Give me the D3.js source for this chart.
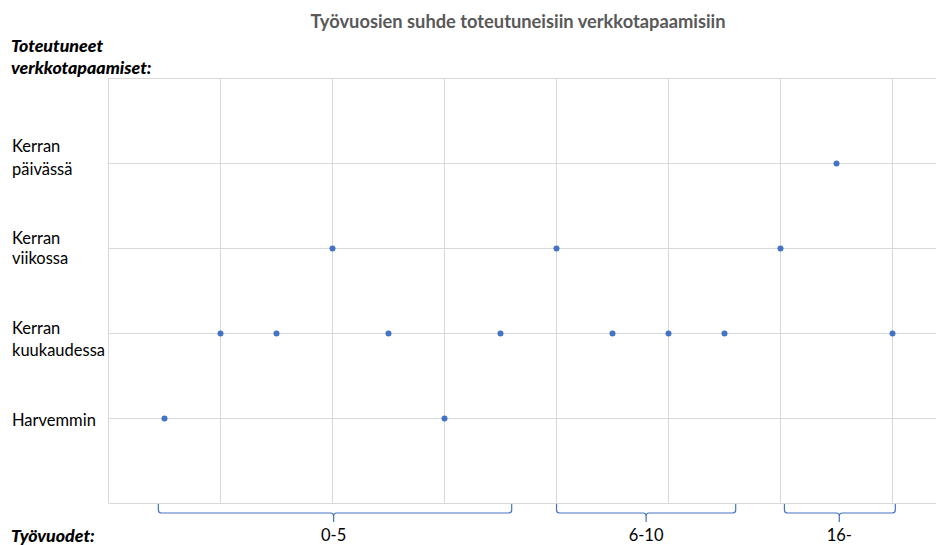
<!DOCTYPE html>
<html><head><meta charset="utf-8">
<script src="https://cdn.jsdelivr.net/npm/d3@7"></script>
<style>body{margin:0;background:#fff}svg{display:block}</style>
</head><body>
<script>
const title = "Työvuosien suhde toteutuneisiin verkkotapaamisiin";
const yCategories = [
  {v:1, lines:["Harvemmin"]},
  {v:2, lines:["Kerran","kuukaudessa"]},
  {v:3, lines:["Kerran","viikossa"]},
  {v:4, lines:["Kerran","päivässä"]}
];
const xValues = [1,2,3,4,5,6,7,8,9,10,11,12,13,14];
const yValues = [1,2,2,3,2,1,2,3,2,2,2,3,4,2];
const groups = [
  {label:"0-5", start:0.89, end:7.2, mid:4.02},
  {label:"6-10", start:8.0, end:11.2, mid:9.6},
  {label:"16-", start:12.07, end:14.05, mid:13.05}
];
const xGridTicks = [0,2,4,6,8,10,12,14];
const yGridTicks = [0,1,2,3,4,5];

// layout: baseline offsets (px) of each label line relative to its gridline
const labelOffsets = {1:[7], 2:[0,22], 3:[-5,15], 4:[-12,11]};

const W=936,H=545;
const svg=d3.select("body").append("svg").attr("width",W).attr("height",H);
const font="Lato, 'Open Sans', sans-serif";
const x=d3.scaleLinear().domain([0,15]).range([108.5,948.5]);
const y=d3.scaleLinear().domain([0,5]).range([503.5,78.5]);

const grid=svg.append("g").attr("stroke","#d9d9d9").attr("stroke-width",1);
grid.selectAll("line.h").data(yGridTicks).join("line")
  .attr("x1",x(0)).attr("x2",W).attr("y1",d=>y(d)).attr("y2",d=>y(d));
grid.selectAll("line.v").data(xGridTicks).join("line")
  .attr("y1",y(0)).attr("y2",y(5)).attr("x1",d=>x(d)).attr("x2",d=>x(d));

svg.append("text").attr("x",518).attr("y",28).attr("text-anchor","middle")
  .attr("font-family",font).attr("font-weight","bold").attr("font-size",18.3)
  .attr("fill","#595959").text(title);

const lab=svg.append("g").attr("font-family",font).attr("font-size",16.5).attr("fill","#000");
["Toteutuneet","verkkotapaamiset:"].forEach((t,i)=>{
  lab.append("text").attr("x",11).attr("y",52+i*22).attr("font-size",17.8)
    .attr("font-weight","900").attr("font-style","italic").text(t);
});
yCategories.forEach(c=>{
  c.lines.forEach((t,i)=>{
    lab.append("text").attr("x",12).attr("y",y(c.v)+labelOffsets[c.v][i]).text(t);
  });
});
lab.append("text").attr("x",11).attr("y",542).attr("font-size",17.8)
  .attr("font-weight","900").attr("font-style","italic").text("Työvuodet:");

svg.append("g").selectAll("circle").data(xValues.map((d,i)=>[d,yValues[i]])).join("circle")
  .attr("cx",d=>x(d[0])).attr("cy",d=>y(d[1])).attr("r",3).attr("fill","#4472C4");

const br=svg.append("g");
groups.forEach(g=>{
  const a=x(g.start),b=x(g.end),m=x(g.mid),top=504,bot=513,r=3;
  const p=`M${a},${top} L${a},${bot-r} Q${a},${bot} ${a+r},${bot} L${m-r},${bot} Q${m},${bot} ${m},${bot+r} L${m},${bot+9} M${m},${bot+r} Q${m},${bot} ${m+r},${bot} L${b-r},${bot} Q${b},${bot} ${b},${bot-r} L${b},${top}`;
  br.append("path").attr("d",p).attr("fill","none").attr("stroke","#4472C4").attr("stroke-width",1.2);
  br.append("text").attr("x",m).attr("y",541).attr("text-anchor","middle")
    .attr("font-family",font).attr("font-size",16.5).attr("fill","#000").text(g.label);
});
</script>
</body></html>
